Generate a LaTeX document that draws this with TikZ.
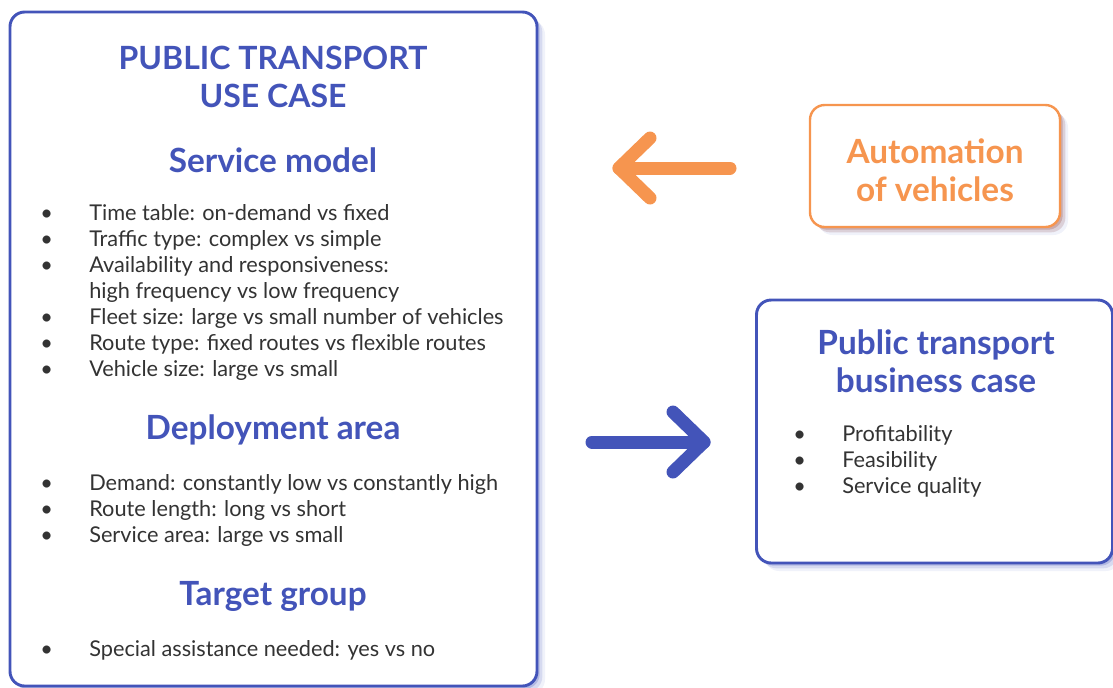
\documentclass[tikz,border=0pt]{standalone}
\usepackage{fontspec}
\setmainfont{Lato}
\usetikzlibrary{positioning,shadows,calc}
\definecolor{ptblue}{HTML}{4354B9}
\definecolor{ptorange}{HTML}{F6954F}
\definecolor{bodygray}{HTML}{333333}
\tikzset{
    panel/.style={draw=ptblue, line width=2.2pt, fill=white, rounded corners=11pt,
        drop shadow={shadow xshift=2pt, shadow yshift=-2pt, fill=ptblue, opacity=.25},
        drop shadow={shadow xshift=4pt, shadow yshift=-4pt, fill=ptblue, opacity=.15},
        drop shadow={shadow xshift=6pt, shadow yshift=-6pt, fill=ptblue, opacity=.08}},
    opanel/.style={panel, draw=ptorange, line width=1.8pt,
        drop shadow={shadow xshift=2pt, shadow yshift=-2pt, fill=ptorange, opacity=.25},
        drop shadow={shadow xshift=4pt, shadow yshift=-4pt, fill=ptorange, opacity=.15}},
    head/.style={text=ptblue, font=\fontsize{25}{28.5}\selectfont\bfseries, align=center},
    items/.style={text=bodygray, font=\fontsize{16.3}{19.5}\selectfont, align=left, anchor=north west, inner sep=0pt},
    bigarrow/.style={line width=9.75pt, line cap=round, line join=round}
}
\newcommand{\itm}[1]{\makebox[36.75pt][l]{\textbullet}#1}

\begin{document}
\begin{tikzpicture}[x=0.75pt, y=-0.75pt]
    \useasboundingbox (0,0) rectangle (1113,687);
    % boxes
    \node[panel, minimum width=395.25pt, minimum height=505.5pt] (usecase) at (273.5,349) {};
    \node[opanel, minimum width=187.5pt, minimum height=91.5pt] (auto) at (935,166) {};
    \node[panel, minimum width=267pt, minimum height=197.25pt] (business) at (934.5,431.5) {};

    % left box texts
    \node[head, font=\fontsize{24}{28.5}\selectfont\bfseries] (title) at (273,77) {PUBLIC TRANSPORT\\USE CASE};
    \node[head] (service) at (273,160) {Service model};
    \node[items] (servlist) at (40,204) {\itm{Time table: on-demand vs fixed}\\
        \itm{Traffic type: complex vs simple}\\
        \itm{Availability and responsiveness:}\\
        \hspace*{36.75pt}high frequency vs low frequency\\
        \itm{Fleet size: large vs small number of vehicles}\\
        \itm{Route type: fixed routes vs flexible routes}\\
        \itm{Vehicle size: large vs small}};
    \node[head] (deploy) at (273,430) {Deployment area};
    \node[items] (deplist) at (40,474) {\itm{Demand: constantly low vs constantly high}\\
        \itm{Route length: long vs short}\\
        \itm{Service area: large vs small}};
    \node[head] (target) at (273,596) {Target group};
    \node[items] (targlist) at (40,640) {\itm{Special assistance needed: yes vs no}};

    % right boxes texts
    \node[head, text=ptorange] (autotext) at (935,170) {Automation\\of vehicles};
    \node[head] (bizhead) at (936,361) {Public transport\\business case};
    \node[items] (bizlist) at (793,425) {\itm{Profitability}\\
        \itm{Feasibility}\\
        \itm{Service quality}};

    % arrows
    \coordinate (otail) at (730,168);
    \coordinate (otip) at (619,168);
    \draw[bigarrow, ptorange] (otail) -- (otip);
    \draw[bigarrow, ptorange] ($(otip)+(31,-30)$) -- (otip) -- ($(otip)+(31,30)$);
    \coordinate (btail) at (592,442);
    \coordinate (btip) at (704,442);
    \draw[bigarrow, ptblue] (btail) -- (btip);
    \draw[bigarrow, ptblue] ($(btip)+(-31,-30)$) -- (btip) -- ($(btip)+(-31,30)$);
\end{tikzpicture}
\end{document}
